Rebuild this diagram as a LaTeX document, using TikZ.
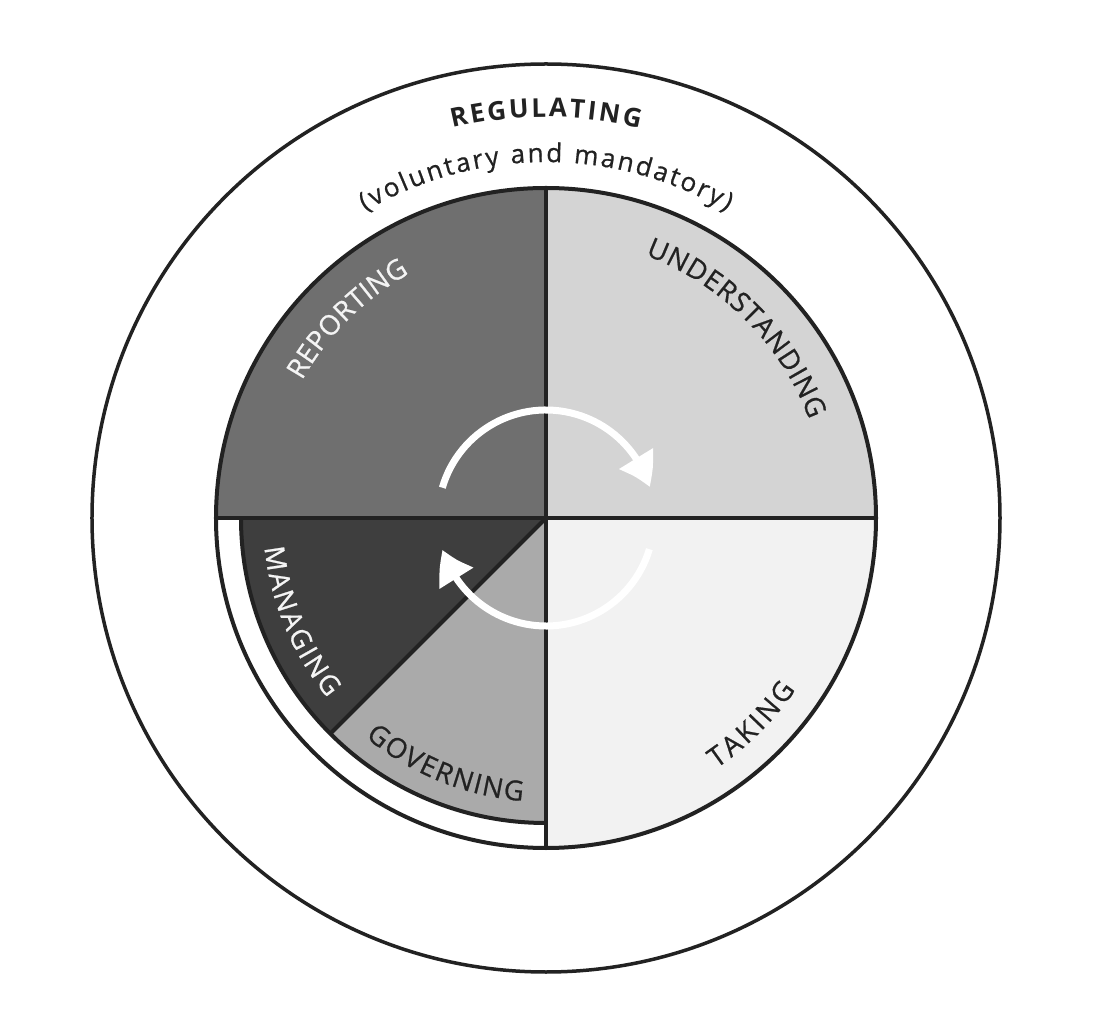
\documentclass[tikz,border=0pt]{standalone}
\usepackage{fontspec}
\setmainfont{Open Sans}
\newfontfamily\semifam{Open Sans}[FakeBold=0.7]
\usetikzlibrary{decorations.text,arrows.meta,bending}
\definecolor{ink}{HTML}{222222}
\definecolor{repC}{HTML}{6F6F6F}
\definecolor{undC}{HTML}{D4D4D4}
\definecolor{takC}{HTML}{F2F2F2}
\definecolor{manC}{HTML}{3E3E3E}
\definecolor{govC}{HTML}{AAAAAA}
\definecolor{lightT}{HTML}{F4F4F4}
\tikzset{
  rim/.style={draw=ink, line width=4pt},
  cyc/.style={draw=white, line width=7pt, -{Triangle[length=32pt,width=38pt,bend]}},
  arclab/.style={decorate, decoration={text along path, text align={fit to path}, text color=#1}},
}
\newcommand\labfont{\semifam\fontsize{27.5}{32}\selectfont}
\newcommand\regfont{\fontsize{26}{30}\selectfont\bfseries}
\newcommand\volfont{\semifam\fontsize{26}{30}\selectfont}
\begin{document}
\begin{tikzpicture}[x=1pt,y=1pt]
\useasboundingbox[fill=white] (-546,-506) rectangle (548,518);
% outer ring
\draw[ink, line width=3.5pt] (0,0) circle[radius=454];
% sectors
\fill[repC] (0,0) -- (180:330) arc[start angle=180,end angle=90,radius=330] -- cycle;
\fill[undC] (0,0) -- (90:330) arc[start angle=90,end angle=0,radius=330] -- cycle;
\fill[takC] (0,0) -- (0:330) arc[start angle=0,end angle=-90,radius=330] -- cycle;
\fill[manC] (0,0) -- (180:305) arc[start angle=180,end angle=225,radius=305] -- cycle;
\fill[govC] (0,0) -- (225:305) arc[start angle=225,end angle=270,radius=305] -- cycle;
% outlines
\draw[rim] (0,0) circle[radius=330];
\draw[rim] (180:305) arc[start angle=180,end angle=270,radius=305];
\draw[rim] (180:330) -- (0:330);
\draw[rim] (90:330) -- (270:330);
\draw[rim] (0,0) -- (225:305);
% cycle arrows
\draw[cyc] (163.7:108) arc[start angle=163.7, end angle=16.6, radius=108];
\draw[cyc] (-16.8:108) arc[start angle=-16.8, end angle=-162.9, radius=108];
% labels
\path[arclab=ink, decoration={text={|\regfont|REGULATING}}]
  (103.5:401) arc[start angle=103.5, end angle=76.5, radius=401];
\path[arclab=ink, decoration={text={|\volfont|(voluntary and mandatory)}}]
  (120.5:356) arc[start angle=120.5, end angle=59.5, radius=356];
\path[arclab=lightT, decoration={text={|\labfont|REPORTING}}]
  (150.6:280) arc[start angle=150.6, end angle=119.2, radius=280];
\path[arclab=ink, decoration={text={|\labfont|UNDERSTANDING}}]
  (69.3:281) arc[start angle=69.3, end angle=20.5, radius=281];
\path[arclab=ink, decoration={text={|\labfont|TAKING}}]
  (-55.8:303) arc[start angle=-55.8, end angle=-34.5, radius=303];
\path[arclab=ink, decoration={text={|\labfont|GOVERNING}}]
  (230.5:284) arc[start angle=230.5, end angle=265.3, radius=284];
\path[arclab=lightT, decoration={text={|\labfont|MANAGING}}]
  (186.0:283) arc[start angle=186.0, end angle=219.5, radius=283];
\end{tikzpicture}
\end{document}
